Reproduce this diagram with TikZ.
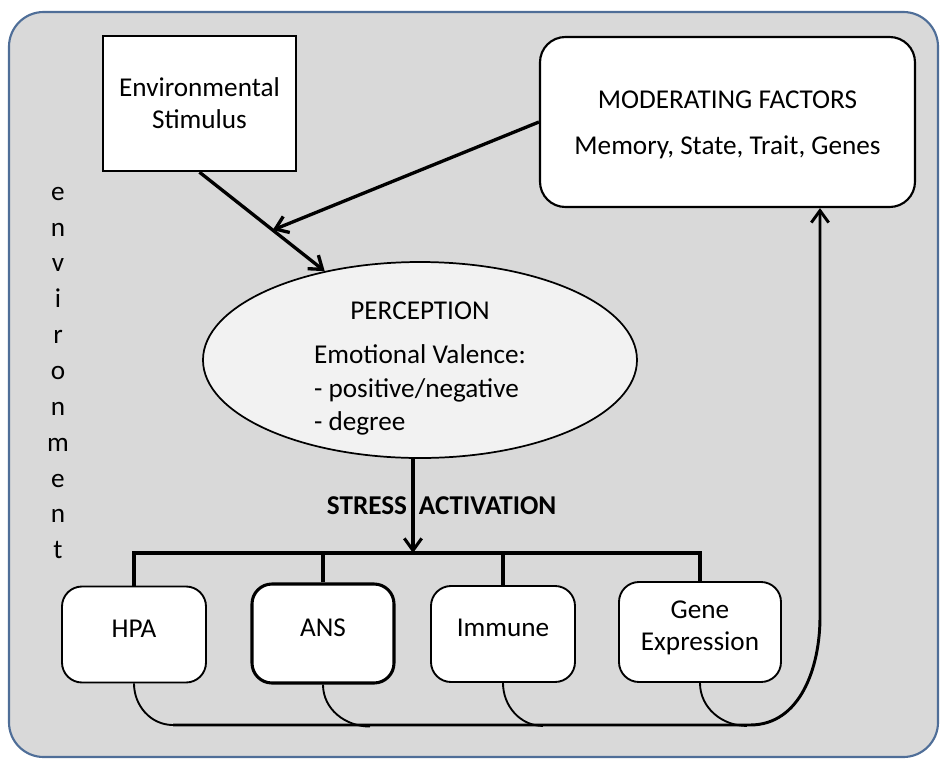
\documentclass[tikz,border=0pt]{standalone}
\usepackage{fontspec}
\setmainfont{Carlito}
\usepackage{tikz}
\usetikzlibrary{shapes.geometric, arrows.meta, positioning, calc}

\definecolor{panelgray}{RGB}{217,217,217}
\definecolor{panelblue}{RGB}{79,110,152}
\definecolor{ovalgray}{RGB}{242,242,242}

\begin{document}
\begin{tikzpicture}[
    x=0.75pt, y=0.75pt,
    % Styles for each node type
    every node/.style={font=\fontsize{20.4}{24}\selectfont},
    stimulus/.style={rectangle, draw=black, line width=1.8pt, fill=white, align=center, minimum width=144.75pt, minimum height=101.25pt},
    moderator/.style={rectangle, rounded corners=19pt, draw=black, line width=1.6pt, fill=white, align=center, minimum width=281.25pt, minimum height=127.5pt},
    perception/.style={ellipse, draw=black, line width=1.3pt, fill=ovalgray, minimum width=325.5pt, minimum height=147pt, inner sep=0pt, font=\fontsize{20.4}{25}\selectfont},
    system/.style={rectangle, rounded corners=15pt, draw=black, line width=1.4pt, fill=white, align=center, minimum width=108pt, minimum height=72pt, text depth=9pt},
    arrow/.style={line width=2.5pt, -{Straight Barb[length=9pt, width=13pt]}},
    branch/.style={line width=2.6pt},
    feedback/.style={line width=1.4pt}
]

% Panel behind everything
\useasboundingbox (0,0) rectangle (940,-758);
\draw[panelblue, fill=panelgray, line width=1.6pt, rounded corners=26pt] (9,-12) rectangle (938,-757);

% Top row
\node[stimulus]  (stim) at (199.5,-103.5) {Environmental\\Stimulus};
\node[moderator] (mod)  at (727.5,-122) {\rule{0pt}{17.5pt}MODERATING FACTORS\\[10pt]Memory, State, Trait, Genes};

% Perception in the middle
\node[perception] (perc) at (420,-360) {\raisebox{-11.6pt}[0pt][0pt]{\begin{tabular}{@{}c@{}}PERCEPTION\\[8pt]\begin{tabular}[t]{@{}l@{}}Emotional Valence:\\- positive/negative\\- degree\end{tabular}\end{tabular}}};

% Side label
\node[align=center, font=\fontsize{20.4}{26.9}\selectfont] (env) at (58,-373) {e\\n\\v\\i\\r\\o\\n\\m\\e\\n\\t};

% Stress systems - bottom row
\node[system] (hpa)  at (134,-634.5) {HPA};
\node[system, minimum width=106.5pt, minimum height=74.25pt, line width=2.3pt] (ans) at (323,-633.5) {ANS};
\node[system] (imm)  at (503,-634) {Immune};
\node[system, minimum width=121.5pt, minimum height=75pt] (gene) at (700,-632) {Gene\\Expression};

% Helper points
\coordinate (split) at (413,-553);
\coordinate (meet)  at ($(stim.south)!0.585!(perc.137)$);
\coordinate (start) at (173,-725);
\coordinate (merge) at (750,-725);
\coordinate (rise)  at (820,-617);

% Stimulus and moderators into perception
\draw[arrow] (stim.south) -- (perc.137);
\draw[arrow] (mod.west) -- (meet);

% Perception down to the systems
\draw[arrow, line width=2.3pt] (split |- perc.south) -- (split)
    node[midway, left] (stress) {\bfseries STRESS}
    node[midway, right] (act) {\bfseries ACTIVATION};
\draw[branch] (hpa.north) |- (split) -| (gene.north);
\draw[branch] (ans.north) -- (ans.north |- split);
\draw[branch] (imm.north) -- (imm.north |- split);

% Feedback from the systems to the moderators
\draw[feedback] (hpa.south)  to[out=-90, in=180] (start);
\draw[feedback] (ans.south)  to[out=-90, in=180] ++(47,-42);
\draw[feedback] (imm.south)  to[out=-90, in=180] ++(40,-43);
\draw[feedback] (gene.south) to[out=-90, in=180] ++(47,-43);
\draw[arrow, line width=2.2pt] (start) -- (merge) to[out=0, in=-90] (rise) -- (rise |- mod.south);

\end{tikzpicture}
\end{document}
